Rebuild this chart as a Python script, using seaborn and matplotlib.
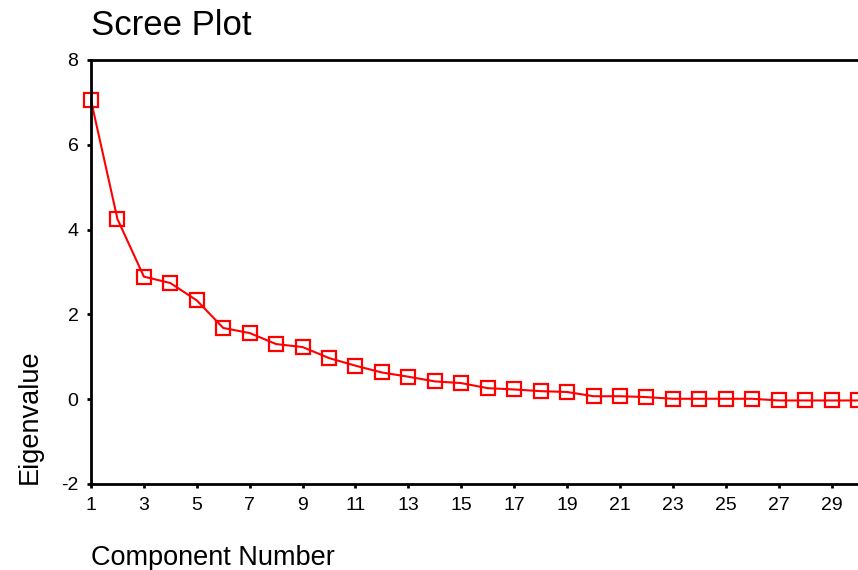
import matplotlib
matplotlib.use("Agg")
import matplotlib.pyplot as plt
import seaborn as sns
import pandas as pd

# Scree plot data (eigenvalues per component)
components = list(range(1, 31))
eigenvalues = [7.05, 4.25, 2.89, 2.74, 2.33, 1.68, 1.56, 1.30, 1.23, 0.97,
               0.79, 0.63, 0.53, 0.42, 0.38, 0.26, 0.23, 0.19, 0.17, 0.07,
               0.07, 0.05, 0.01, 0.01, 0.01, 0.01, -0.03, -0.03, -0.03, -0.03]
x_ticks = list(range(1, 30, 2))
y_ticks = [-2, 0, 2, 4, 6, 8]

df = pd.DataFrame({"Component Number": components, "Eigenvalue": eigenvalues})

sns.set_style("ticks")
plt.rcParams['font.family'] = ['Liberation Sans', 'DejaVu Sans']
plt.rcParams['axes.unicode_minus'] = False
plt.rcParams['text.color'] = 'black'
plt.rcParams['axes.labelcolor'] = 'black'
plt.rcParams['xtick.color'] = 'black'
plt.rcParams['ytick.color'] = 'black'

fig = plt.figure(figsize=(8.58, 5.70), dpi=100)
ax = fig.add_axes([91 / 858, 86 / 570, 767 / 858, 424 / 570])

sns.lineplot(data=df, x="Component Number", y="Eigenvalue", ax=ax,
             color="red", linewidth=1.5, marker="s", markersize=9.5,
             markerfacecolor="none", markeredgecolor="red",
             markeredgewidth=1.6, clip_on=False)

ax.set_xlim(1, 30)
ax.set_ylim(-2, 8)
ax.set_xticks(x_ticks)
ax.set_yticks(y_ticks)
ax.tick_params(axis="both", direction="out", length=3, width=2,
               labelsize=14, pad=6)

for side in ["left", "bottom", "top"]:
    ax.spines[side].set_visible(True)
    ax.spines[side].set_color("black")
    ax.spines[side].set_linewidth(2)
ax.spines["right"].set_visible(False)

ax.set_title("Scree Plot", loc="left", fontsize=25, pad=18)
ax.set_xlabel("Component Number", loc="left", fontsize=19.5, labelpad=23)
ax.set_ylabel("Eigenvalue", loc="bottom", fontsize=19.5, labelpad=13)

fig.savefig("out.png", dpi=100)
